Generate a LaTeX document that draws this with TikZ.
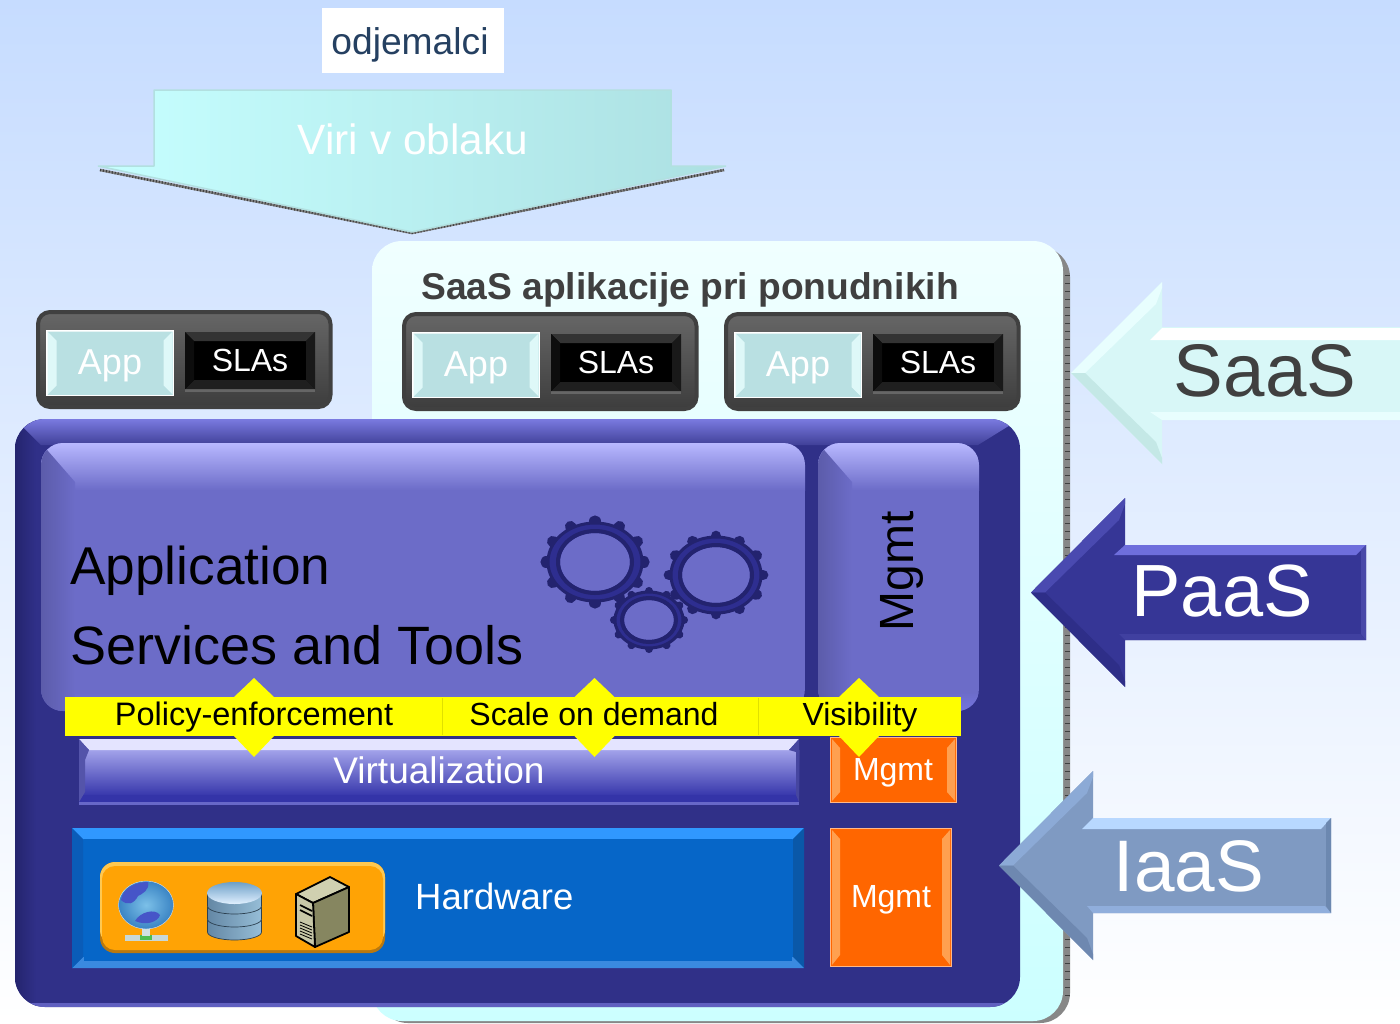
\documentclass[tikz,border=0pt]{standalone}
\usepackage{fontspec}
\setmainfont{Liberation Sans}
\definecolor{bgtop}{HTML}{C6DCFF}
\definecolor{bgmid}{HTML}{E2EDFF}
\definecolor{cloudtop}{HTML}{F0FFFF}
\definecolor{cloudlow}{HTML}{CCFFFF}
\definecolor{arrowleft}{HTML}{C6FFFF}
\definecolor{arrowmid}{HTML}{C0F6F8}
\definecolor{arrowright}{HTML}{ACE0E2}
\definecolor{arrowedge}{HTML}{B2E0E0}
\definecolor{clientblue}{HTML}{254061}
\definecolor{appface}{HTML}{B9E0E2}
\definecolor{applight}{HTML}{DEF8F8}
\definecolor{panelblue}{HTML}{303088}
\definecolor{panelleft}{HTML}{24246E}
\definecolor{paneltop}{HTML}{7A7AE0}
\definecolor{panelband}{HTML}{404098}
\definecolor{panellow}{HTML}{6060C0}
\definecolor{facepurple}{HTML}{6C6CC8}
\definecolor{toppurple}{HTML}{B8B8FF}
\definecolor{lowpurple}{HTML}{7474E0}
\definecolor{gearblue}{HTML}{2E2E90}
\definecolor{gearedge}{HTML}{23236F}
\definecolor{baryellow}{HTML}{FFFF00}
\definecolor{barline}{HTML}{E0E000}
\definecolor{virtline}{HTML}{6868C8}
\definecolor{virttop}{HTML}{A2A2EA}
\definecolor{virtlow}{HTML}{3838AC}
\definecolor{virtband}{HTML}{3434A8}
\definecolor{virtlight}{HTML}{E4E4FF}
\definecolor{virtleft}{HTML}{5454AA}
\definecolor{virtright}{HTML}{4646A0}
\definecolor{hwblue}{HTML}{0666C8}
\definecolor{hwtop}{HTML}{3098FF}
\definecolor{hwright}{HTML}{0A58A8}
\definecolor{hwlow}{HTML}{3A8AE0}
\definecolor{hwleft}{HTML}{0A5CB8}
\definecolor{rackdark}{HTML}{B87810}
\definecolor{racklight}{HTML}{FFC850}
\definecolor{rackface}{HTML}{FFA305}
\definecolor{mgmtorange}{HTML}{FF6600}
\definecolor{mgmtlight}{HTML}{FFA050}
\definecolor{mgmtedge}{HTML}{FFB888}
\definecolor{captiongray}{HTML}{404040}
\definecolor{standgray}{HTML}{C8D8D8}
\definecolor{standlight}{HTML}{D2E1E1}
\definecolor{standgreen}{HTML}{50BE50}
\definecolor{globelight}{HTML}{7CC0E8}
\definecolor{globeblue}{HTML}{3A84C4}
\definecolor{globeedge}{HTML}{D7E6F5}
\definecolor{landblue}{HTML}{4655C8}
\definecolor{dbleft}{HTML}{6487A5}
\definecolor{dbright}{HTML}{96BED7}
\definecolor{dbline}{HTML}{2C4050}
\definecolor{dbtop}{HTML}{6EA0C8}
\definecolor{dblow}{HTML}{E1F0FF}
\definecolor{srvtop}{HTML}{D0D0B0}
\definecolor{srvside}{HTML}{868660}
\definecolor{srvfront}{HTML}{C8C8A8}
\definecolor{saasface}{HTML}{D8F7F7}
\definecolor{saasup}{HTML}{E8FEFE}
\definecolor{saasdown}{HTML}{C4E8E6}
\definecolor{paasface}{HTML}{363696}
\definecolor{paasup}{HTML}{4A4AB0}
\definecolor{paasdown}{HTML}{2E2E88}
\definecolor{paastop}{HTML}{6E6EDC}
\definecolor{paasright}{HTML}{4848A8}
\definecolor{paaslow}{HTML}{4040A0}
\definecolor{iaasface}{HTML}{7F9AC2}
\definecolor{iaasup}{HTML}{8CAAD6}
\definecolor{iaasdown}{HTML}{6E88B0}
\definecolor{iaastop}{HTML}{B8D8FF}
\definecolor{iaaslow}{HTML}{90AEDC}
\definecolor{iaasright}{HTML}{6C88B0}
\newcommand{\fsz}[1]{\fontsize{#1}{#1}\selectfont}
% face of a box: x0,y0,x1,y1,face,border
\newcommand{\facebox}[6]{\draw[draw=#6,fill=#5,line width=1.5pt] (#1,#2) rectangle (#3,#4);}
% four mitred edges: x0,y0,x1,y1,width,top,right,bottom,left
\newcommand{\bevels}[9]{%
\fill[#6] (#1,#2) -- (#3,#2) -- ({#3-#5},{#2+#5}) -- ({#1+#5},{#2+#5}) -- cycle;
\fill[#7] (#3,#2) -- (#3,#4) -- ({#3-#5},{#4-#5}) -- ({#3-#5},{#2+#5}) -- cycle;
\fill[#8] (#1,#4) -- (#3,#4) -- ({#3-#5},{#4-#5}) -- ({#1+#5},{#4-#5}) -- cycle;
\fill[#9] (#1,#2) -- (#1,#4) -- ({#1+#5},{#4-#5}) -- ({#1+#5},{#2+#5}) -- cycle;}
% arrow to the left: tipx,tipy,neckx,head half,shaft half,right,face,upper,lower
\newcommand{\sidearrow}[9]{%
\fill[#7] (#1,#2) -- (#3,{#2-#4}) -- (#3,{#2-#5}) -- (#6,{#2-#5}) -- (#6,{#2+#5}) -- (#3,{#2+#5}) -- (#3,{#2+#4}) -- cycle;
\fill[#8] (#1,#2) -- (#3,{#2-#4}) -- (#3,{#2-#4+6}) -- ({#3-6},{#2-#4+22}) -- ({#1+14},#2) -- cycle;
\fill[#9] (#1,#2) -- (#3,{#2+#4}) -- (#3,{#2+#4-6}) -- ({#3-6},{#2+#4-22}) -- ({#1+14},#2) -- cycle;}
% gear wheel: cx,cy,hole rx,hole ry,ring rx,ring ry,tooth rx,tooth ry
\newcommand{\gearwheel}[8]{%
\begin{scope}[shift={(#1,#2)}]
\foreach \ang in {0,30,...,330}
  \draw[gearedge,line width={#5/4.2},line cap=round] ({#5*cos(\ang)},{#6*sin(\ang)}) -- ({#7*cos(\ang)},{#8*sin(\ang)});
\fill[gearblue,even odd rule] (0,0) ellipse [x radius=#5,y radius=#6] (0,0) ellipse [x radius=#3,y radius=#4];
\draw[gearedge,line width=4pt] (0,0) ellipse [x radius=#3+2,y radius=#4+2];
\draw[gearedge,line width=3pt] (0,0) ellipse [x radius=#5,y radius=#6];
\end{scope}}
\tikzset{
  lbl/.style={inner sep=0pt,anchor=base,text=white},
  lblblack/.style={inner sep=0pt,anchor=base,text=black},
  sidelbl/.style={lbl,font=\fsz{74}},
  yellowlbl/.style={lblblack,font=\fsz{32}},
  mgmtlbl/.style={lbl,font=\fsz{32}},
  darkbox/.style={rounded corners=12pt,draw=captiongray,line width=4pt,top color=black!60,bottom color=black!76},
}
\begin{document}
\begin{tikzpicture}[x=1pt,y=-1pt]
\useasboundingbox (0,0) rectangle (1400,1023);
\shade[top color=bgtop,middle color=bgmid,bottom color=white] (0,0) rectangle (1400,1023); %background
%cloud panel
\fill[rounded corners=30pt,black!47] (378,247) rectangle (1070,1023);
\draw[black!75,line width=5pt,dash pattern=on 1pt off 7pt] (1067,275) -- (1067,1000);
\shade[rounded corners=30pt,top color=cloudtop,bottom color=cloudlow] (372,241) rectangle (1063,1021);
%arrow from the top
\draw[black!50,line width=2.5pt,line join=bevel] (100,170) -- (412,233) -- (724,170);
\draw[black!75,line width=2.5pt,dash pattern=on 1pt off 2pt,line join=bevel] (100,170) -- (412,233) -- (724,170);
\shade[left color=arrowleft,middle color=arrowmid,right color=arrowright,draw=arrowedge,line width=1.5pt,line join=bevel] (154,90) -- (671,90) -- (671,166) -- (726,166) -- (412,232) -- (98,166) -- (154,166) -- cycle;
\node[lbl,font=\fsz{42.4}] (viri) at (413,154) {Viri v oblaku};
\fill[white] (322,8) rectangle (504,73);
\node[lbl,text=clientblue,font=\fsz{37.2}] (odjemalci) at (410,54) {odjemalci};
\node[lbl,text=captiongray,font=\bfseries\fsz{37.2}] (saasapps) at (690,299) {SaaS aplikacije pri ponudnikih};
%app and sla boxes
\foreach \bx/\by/\bname in {36/310/a,402/312/b,724/312/c}{
  \path[darkbox] (\bx+2,\by+2) rectangle (\bx+294.5,\by+97);
  \facebox{\bx+10.75}{\by+20.75}{\bx+137.25}{\by+85.25}{appface}{white}
  \bevels{\bx+11.5}{\by+21.5}{\bx+136.5}{\by+84.5}{9}{appface}{applight}{appface}{applight}
  \fill[black!60] (\bx+149,\by+22) rectangle (\bx+279,\by+82);
  \fill[black] (\bx+149,\by+22) rectangle (\bx+279,\by+79);
  \bevels{\bx+149}{\by+22}{\bx+279}{\by+79}{9}{black!80}{black!90}{black!88}{black!95}
  \node[lbl,font=\fsz{36}] (app\bname) at (\bx+74,\by+64) {App};
  \node[lbl,font=\fsz{32}] (sla\bname) at (\bx+214,\by+61) {SLAs};
}
%big blue panel
\fill[rounded corners=30pt,panelblue] (15,419) rectangle (1020,1007);
\begin{scope}
\clip[rounded corners=30pt] (15,419) rectangle (1020,1007);
\shade[left color=panelleft,right color=panelblue] (15,419) rectangle (36,1007);
\shade[top color=paneltop,bottom color=panelband] (15,419) -- (1020,419) -- (978,445) -- (41,445) -- cycle;
\fill[panellow] (15,1003) rectangle (1020,1007);
\end{scope}
%application and mgmt panels
\foreach \px/\pw in {41/764,818/161}{
\begin{scope}
\clip[rounded corners=22pt] (\px,443) rectangle (\px+\pw,711);
\fill[facepurple] (\px,443) rectangle (\px+\pw,711);
\shade[top color=toppurple,bottom color=facepurple] (\px,443) rectangle (\px+\pw,490);
\shade[left color=black!15!facepurple,right color=facepurple] (\px,443) -- (\px+34,482) -- (\px+34,711) -- (\px,711) -- cycle;
\shade[top color=facepurple,bottom color=lowpurple] (\px+34,692) rectangle (\px+\pw,711);
\end{scope}
}
\gearwheel{595}{562}{35}{29}{47}{39}{49}{41}
\gearwheel{716}{575}{34}{28}{45}{38}{47}{39}
\gearwheel{649}{620}{25}{20}{34}{28}{35}{29}
\node[lblblack,anchor=base west,font=\fsz{53.2}] (application) at (70,584) {Application};
\node[lblblack,anchor=base west,font=\fsz{54}] (services) at (70,664) {Services and Tools};
\node[lblblack,rotate=90,font=\fsz{48}] (mgmttop) at (913,571) {Mgmt};
%virtualization
\fill[virtline] (79,739) rectangle (799,805);
\shade[top color=virttop,bottom color=virtlow] (79,750) rectangle (799,795);
\fill[virtband] (79,795) rectangle (799,802);
\fill[virtlight] (79,739) -- (799,739) -- (789,750) -- (89,750) -- cycle;
\fill[virtleft] (79,739) -- (89,750) -- (85,760) -- (85,792) -- (79,802) -- cycle;
\fill[virtright] (799,739) -- (789,750) -- (796,752) -- (796,795) -- (799,802) -- cycle;
\node[lbl,font=\fsz{37}] (virt) at (439,783) {Virtualization};
%mgmt boxes
\facebox{830.5}{737.5}{956.5}{802.5}{mgmtorange}{mgmtedge}
\fill[mgmtlight] (832,739) -- (840,748) -- (840,792) -- (832,801) -- cycle;
\fill[mgmtlight] (955,739) -- (947,748) -- (947,792) -- (955,801) -- cycle;
\node[mgmtlbl] (mgmtmid) at (893,780) {Mgmt};
\facebox{830.5}{828.5}{951.5}{966.5}{mgmtorange}{mgmtedge}
\fill[mgmtlight] (832,830) -- (840,839) -- (840,955) -- (832,965) -- cycle;
\fill[mgmtlight] (950,830) -- (942,839) -- (942,955) -- (950,965) -- cycle;
\node[mgmtlbl] (mgmtlow) at (891,907) {Mgmt};
%hardware
\fill[hwblue] (72,828) rectangle (804,968);
\bevels{72}{828}{804}{968}{11}{hwtop}{hwright}{hwlow}{hwleft}
\fill[hwblue] (84,839) rectangle (792,961);
\node[lbl,anchor=base west,font=\fsz{36.5}] (hardware) at (415,909) {Hardware};
\fill[rounded corners=15pt,rackdark] (100,862) rectangle (385,953);
\fill[rounded corners=15pt,racklight] (100,862) rectangle (385,945);
\fill[rounded corners=13pt,rackface] (102,866) rectangle (383,950);
%globe
\fill[standgray] (125,935) rectangle (168,941);
\fill[standgreen] (140,935) rectangle (152,940);
\fill[standlight] (142,926) rectangle (150,936);
\shade[inner color=globelight,outer color=globeblue,draw=globeedge] (146,905) ellipse [x radius=27.5,y radius=24];
\fill[landblue] (121,900) .. controls (123,888) and (135,882) .. (148,882) .. controls (150,890) and (142,894) .. (138,896) .. controls (134,904) and (127,906) .. (121,900) -- cycle;
\fill[landblue] (135,921) .. controls (140,912) and (155,908) .. (160,915) .. controls (158,922) and (146,926) .. (135,921) -- cycle;
%database
\foreach \dy in {920,907,894}{
\shade[left color=dbleft,right color=dbright,draw=dbline,line width=0.7pt] (207.5,\dy) -- (207.5,\dy+12) arc [start angle=180,end angle=0,x radius=27,y radius=8] -- (261.5,\dy) -- cycle;
}
\shade[top color=dbtop,bottom color=dblow] (234.5,893) ellipse [x radius=27.5,y radius=11];
%server
\draw[black,fill=srvtop,line width=1.8pt,line join=round] (296,894) -- (330,877) -- (349,887) -- (313,903) -- cycle;
\draw[black,fill=srvside,line width=1.8pt,line join=round] (313,903) -- (349,887) -- (349,932) -- (315,947) -- cycle;
\draw[black,fill=srvfront,line width=1.8pt,line join=round] (296,894) -- (313,903) -- (315,947) -- (296,936) -- cycle;
\foreach \sy in {0,3,...,12}
  \draw[black,line width=0.8pt] (300,\sy+922) -- (312,\sy+927);
\draw[black,line width=1.6pt] (300,905) -- (312,911);
\draw[black,line width=1.6pt] (300,910) -- (312,916);
%diamonds behind the yellow bar
\foreach \dx in {254,594.5,859}
  \fill[baryellow] (\dx,678) -- (\dx+20,697) -- (\dx+20,736) -- (\dx,757) -- (\dx-20,736) -- (\dx-20,697) -- cycle;
\fill[baryellow] (65,697) rectangle (961,736);
\foreach \sx in {442,758}
  \draw[barline,line width=1pt] (\sx,698) -- (\sx,735);
\node[yellowlbl,font=\fsz{32.5}] (policy) at (254,725) {Policy-enforcement};
\node[yellowlbl] (scale) at (594,725) {Scale on demand};
\node[yellowlbl] (visible) at (860,725) {Visibility};
%side arrows
\sidearrow{1071}{373}{1162}{91}{46}{1400}{saasface}{saasup}{saasdown}
\fill[white] (1162,328) -- (1400,328) -- (1400,340) -- (1150,340) -- cycle;
\fill[saasup] (1150,412) -- (1400,412) -- (1400,420) -- (1162,420) -- cycle;
\node[lbl,text=captiongray,font=\fsz{74.5}] (saas) at (1265,396.5) {SaaS};
\sidearrow{1031}{592.5}{1125}{94.5}{47.5}{1366}{paasface}{paasup}{paasdown}
\fill[paastop] (1125,545) -- (1366,545) -- (1356,555) -- (1114,555) -- cycle;
\fill[paaslow] (1119,634) -- (1360,634) -- (1366,640) -- (1125,640) -- cycle;
\fill[paasright] (1366,545) -- (1366,640) -- (1361,634) -- (1361,550) -- cycle;
\node[sidelbl] (paas) at (1222,616.5) {PaaS};
\sidearrow{999}{865.5}{1093}{94.5}{47.5}{1331}{iaasface}{iaasup}{iaasdown}
\fill[iaastop] (1093,818) -- (1331,818) -- (1321,829) -- (1082,829) -- cycle;
\fill[iaaslow] (1087,906) -- (1325,906) -- (1331,913) -- (1093,913) -- cycle;
\fill[iaasright] (1331,818) -- (1331,913) -- (1326,906) -- (1326,823) -- cycle;
\node[lbl,font=\fsz{73}] (iaas) at (1189,891) {IaaS};
\end{tikzpicture}
\end{document}
